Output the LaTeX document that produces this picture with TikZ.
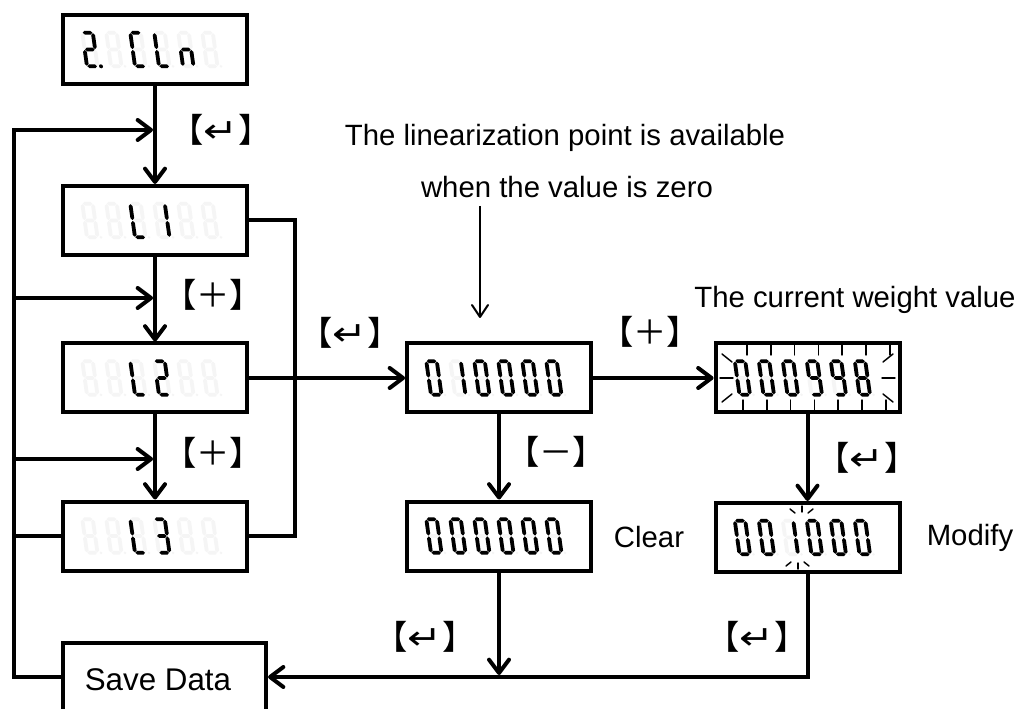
\documentclass[tikz,border=0pt]{standalone}
\usepackage{fontspec}
\usepackage{graphicx}
\setmainfont{Liberation Sans}
\newfontfamily\bracketfont{Noto Sans CJK SC}
\newfontfamily\enterfont{DejaVu Sans}
\usetikzlibrary{arrows.meta}

\colorlet{lcdoff}{black!4}
\colorlet{lcdon}{black}

% --- seven-segment LCD digits -------------------------------------------
% local frame: origin at the bottom-left of a digit, y pointing up
\def\lcdhw{1.9}
\newcommand\lcdhseg[4]{\fill[#1] (#2,#4) -- ({#2+\lcdhw},{#4+\lcdhw}) -- ({#3-\lcdhw},{#4+\lcdhw}) -- (#3,#4) -- ({#3-\lcdhw},{#4-\lcdhw}) -- ({#2+\lcdhw},{#4-\lcdhw}) -- cycle;}
\newcommand\lcdvseg[4]{\fill[#1] (#2,#3) -- ({#2+\lcdhw},{#3+\lcdhw}) -- ({#2+\lcdhw},{#4-\lcdhw}) -- (#2,#4) -- ({#2-\lcdhw},{#4-\lcdhw}) -- ({#2-\lcdhw},{#3+\lcdhw}) -- cycle;}
\newcommand\lcdsega[1]{\lcdhseg{#1}{0.45}{10.05}{33.6}}
\newcommand\lcdsegb[1]{\lcdvseg{#1}{10.5}{17.25}{33.15}}
\newcommand\lcdsegc[1]{\lcdvseg{#1}{10.5}{0.45}{16.35}}
\newcommand\lcdsegd[1]{\lcdhseg{#1}{0.45}{10.05}{0}}
\newcommand\lcdsege[1]{\lcdvseg{#1}{0}{0.45}{16.35}}
\newcommand\lcdsegf[1]{\lcdvseg{#1}{0}{17.25}{33.15}}
\newcommand\lcdsegg[1]{\lcdhseg{#1}{0.45}{10.05}{16.8}}
\newcommand\lcdsegnone[1]{}

\expandafter\def\csname lcdsym0\endcsname{a,b,c,d,e,f}
\expandafter\def\csname lcdsym1\endcsname{b,c}
\expandafter\def\csname lcdsym2\endcsname{a,b,g,e,d}
\expandafter\def\csname lcdsym3\endcsname{a,b,g,c,d}
\expandafter\def\csname lcdsym8\endcsname{a,b,c,d,e,f,g}
\expandafter\def\csname lcdsym9\endcsname{a,b,c,d,f,g}
\expandafter\def\csname lcdsymC\endcsname{a,d,e,f}
\expandafter\def\csname lcdsymL\endcsname{d,e,f}
\expandafter\def\csname lcdsymn\endcsname{c,e,g}
\expandafter\def\csname lcdsymx\endcsname{none}

% #1,#2: bottom-left of the digit; #3: macro holding the lit segments; #4: decimal point
\newcommand\lcddigit[4]{%
  \begin{scope}[shift={(#1,#2)},yscale=-1,xslant=0.14]
    \foreach \s in {a,b,c,d,e,f,g}{\csname lcdseg\s\endcsname{lcdoff}}
    \fill[lcdoff] (14,0) circle (1.4);
    \foreach \s in #3{\csname lcdseg\s\endcsname{lcdon}}
    \ifnum#4=1 \fill[lcdon] (14,0) circle (2);\fi
  \end{scope}}

% six-digit readout centred on (#1,#2)
\newcommand\lcdrow[3]{%
  \foreach \lcdname/\lcdpoint [count=\lcdpos from 0] in {#3}{%
    \expandafter\let\expandafter\lcdcurrent\csname lcdsym\lcdname\endcsname
    \lcddigit{{#1-68+24*\lcdpos}}{{#2+16.8}}{\lcdcurrent}{\lcdpoint}}}

\tikzset{
  lcdbox/.style={draw, line width=3pt, minimum width=138pt, minimum height=51.75pt, inner sep=0pt},
  wire/.style={line width=3pt},
  flow/.style={wire, -{Straight Barb[length=10pt,width=15pt,round]}},
  pointer/.style={line width=1.5pt, -{Straight Barb[length=9pt,width=12pt,round]}},
  keylabel/.style={font=\bracketfont\fontsize{25pt}{25pt}\selectfont, inner sep=0pt},
  plaintext/.style={font=\fontsize{22pt}{26pt}\selectfont, inner sep=0pt},
  blinkray/.style={line width=1.1pt, line cap=round},
}
\newcommand\enterkey{【\scalebox{1.25}[1]{\enterfont ↵}】}

\begin{document}
\begin{tikzpicture}[x=0.75pt,y=-0.75pt]
\useasboundingbox (0,0) rectangle (1022,709);
\fill[white] (0,0) rectangle (1022,709);

% display boxes
\node[lcdbox] (cln) at (155,49.5) {};
\node[lcdbox] (l1) at (155,220.5) {};
\node[lcdbox] (l2) at (155,378) {};
\node[lcdbox] (l3) at (155,536) {};
\node[lcdbox] (v1) at (499,378) {};
\node[lcdbox] (w1) at (807.5,378) {};
\node[lcdbox] (z1) at (499,536) {};
\node[lcdbox] (m1) at (807.5,537.5) {};
\node[lcdbox, minimum width=152.25pt, minimum height=60pt] (save) at (164.5,683) {};
\node[plaintext, font=\fontsize{23.5pt}{28pt}\selectfont] (savetxt) at (158,680) {Save Data};

% readouts
\lcdrow{155}{49.5}{2/1,x/0,C/0,L/0,n/0,x/0}
\lcdrow{155}{220.5}{x/0,x/0,L/0,1/0,x/0,x/0}
\lcdrow{155}{378}{x/0,x/0,L/0,2/0,x/0,x/0}
\lcdrow{155}{536}{x/0,x/0,L/0,3/0,x/0,x/0}
\lcdrow{499}{378}{0/0,1/0,0/0,0/0,0/0,0/0}
\lcdrow{807.5}{378}{0/0,0/0,0/0,9/0,9/0,8/0}
\lcdrow{499}{536}{0/0,0/0,0/0,0/0,0/0,0/0}
\lcdrow{807.5}{537.5}{0/0,0/0,1/0,0/0,0/0,0/0}

% flashing marks: whole weight readout
\foreach \i in {0,...,6}{\draw[blinkray] ({747+23.8*\i},345) -- ({747+23.8*\i},355);}
\foreach \i in {0,...,6}{\draw[blinkray] ({743+23.8*\i},400) -- ({743+23.8*\i},410);}
\draw[blinkray] (722,354) -- (732,362);
\draw[blinkray] (720,378) -- (733,378);
\draw[blinkray] (722,402) -- (732,394);
\draw[blinkray] (893,354) -- (883,362);
\draw[blinkray] (895,378) -- (882,378);
\draw[blinkray] (893,402) -- (883,394);
% flashing marks: edited digit
\draw[blinkray] (802,506) -- (802,512);
\draw[blinkray] (790,509) -- (795,513);
\draw[blinkray] (813,509) -- (808,513);
\draw[blinkray] (798,563) -- (798,569);
\draw[blinkray] (786,566) -- (791,562);
\draw[blinkray] (809,566) -- (804,562);

% junction points
\coordinate (lpb) at (14,677);
\coordinate (lpt) at (14,130);
\coordinate (j1) at (153,130);
\coordinate (j2l) at (14,298);
\coordinate (j2) at (153,298);
\coordinate (j3l) at (14,459);
\coordinate (j3) at (153,459);
\coordinate (busT) at (295,220.5);
\coordinate (busB) at (295,536);
\coordinate (zbot) at (499,675);
\coordinate (mcorner) at (807.5,677);
\coordinate (annS) at (480,206);
\coordinate (annE) at (480,318);

% connectors
\draw[flow] (cln) -- (l1);
\draw[flow] (l1) -- (l2);
\draw[flow] (l2) -- (l3);
\draw[flow] (save.west |- lpb) -- (lpb) -- (lpt) -- (j1);
\draw[flow] (j2l) -- (j2);
\draw[flow] (j3l) -- (j3);
\draw[wire] (l3.west) -- (l3.west -| lpb);
\draw[wire] (l1.east) -- (busT) -- (busB) -- (l3.east);
\draw[flow] (l2) -- (v1);
\draw[flow] (v1) -- (w1);
\draw[flow] (v1) -- (z1);
\draw[flow] (w1) -- (m1);
\draw[flow] (z1) -- (zbot);
\draw[flow] (m1) -- (mcorner) -- (save.east |- mcorner);
\draw[pointer] (annS) -- (annE);

% key labels
\node[keylabel] (k1) at (221,130) {\enterkey};
\node[keylabel] (k2) at (213,295) {【＋】};
\node[keylabel] (k3) at (213,453) {【＋】};
\node[keylabel] (k4) at (350,333) {\enterkey};
\node[keylabel] (k5) at (650,332) {【＋】};
\node[keylabel] (k6) at (556,452) {【－】};
\node[keylabel] (k7) at (867,458) {\enterkey};
\node[keylabel] (k8) at (425,637) {\enterkey};
\node[keylabel] (k9) at (757,637) {\enterkey};

% notes
\node[plaintext] (note1) at (565,138) {The linearization point is available};
\node[plaintext] (note2) at (567,187) {when the value is zero};
\node[plaintext] (note3) at (855,300) {The current weight value};
\node[plaintext] (clr) at (649,537) {Clear};
\node[plaintext] (mod) at (970,538) {Modify};
\end{tikzpicture}
\end{document}
